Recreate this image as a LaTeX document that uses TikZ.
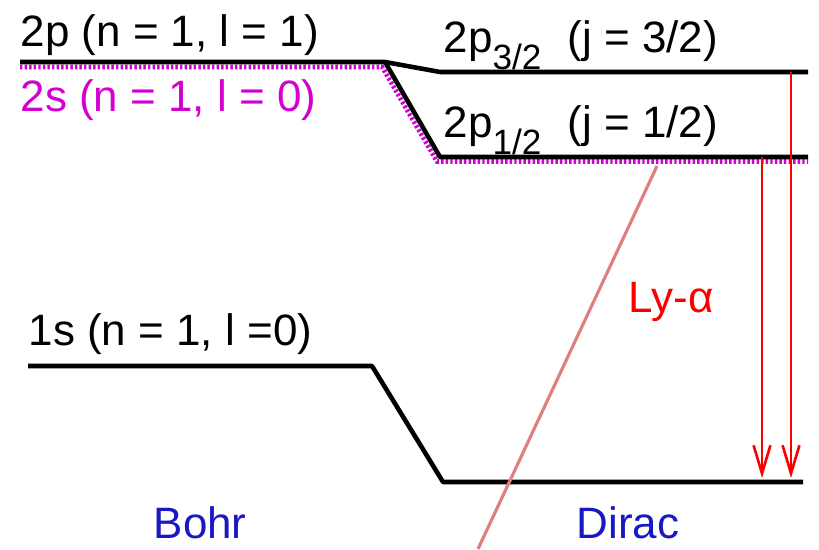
\documentclass[tikz,border=0pt]{standalone}
\usepackage{fontspec}
\setmainfont{Liberation Sans}
\usetikzlibrary{arrows.meta}
\definecolor{lvlmag}{RGB}{210,0,210}
\definecolor{lyred}{RGB}{250,0,0}
\definecolor{cutpink}{RGB}{222,128,128}
\definecolor{labblue}{RGB}{25,25,195}
\newcommand{\jsub}[1]{\raisebox{-0.7ex}{\fontsize{10}{10}\selectfont #1}}

\begin{document}
\begin{tikzpicture}[x=0.01cm,y=-0.01cm,
  level/.style={line width=1.3pt,black,line join=round},
  sdots/.style={lvlmag,line width=1.3pt,dash pattern=on 0.7pt off 0.6pt},
  trans/.style={lyred,line width=0.75pt,-{Straight Barb[length=8pt,width=4.8pt]}},
  lab/.style={anchor=base west,inner sep=0pt,font=\fontsize{12.5}{14}\selectfont}]
  \useasboundingbox (0,0) rectangle (819,549);
  % level end points
  \coordinate (bp) at (20,62);
  \coordinate (bpk) at (385,62);
  \coordinate (p32a) at (440,72);
  \coordinate (p32b) at (808,72);
  \coordinate (p12a) at (440,157);
  \coordinate (p12b) at (808,157);
  \coordinate (bs) at (28,366);
  \coordinate (bsk) at (372,366);
  \coordinate (s1a) at (443,482);
  \coordinate (s1b) at (803,482);
  % 2s level, dotted under the 2p one
  \draw[sdots] (20,67) -- (382,67) -- (437,161.5) -- (808,161.5);
  % levels
  \draw[level] (bp) -- (bpk) -- (p32a) -- (p32b);
  \draw[level] (bpk) -- (p12a) -- (p12b);
  \draw[level] (bs) -- (bsk) -- (s1a) -- (s1b);
  % labels
  \node[lab] (l2p) at (20,47) {2p (n = 1, l = 1)};
  \node[lab,lvlmag] (l2s) at (20,112) {2s (n = 1, l = 0)};
  \node[lab] (l32) at (443,53) {2p\jsub{3/2}\hspace{0.6em}(j = 3/2)};
  \node[lab] (l12) at (443,138) {2p\jsub{1/2}\hspace{0.6em}(j = 1/2)};
  \node[lab] (l1s) at (28,345) {1s (n = 1, l =0)};
  \node[lab,lyred] (lya) at (628,312) {Ly-α};
  \node[lab,labblue] (bohr) at (153,538) {Bohr};
  \node[lab,labblue] (dirac) at (576,538) {Dirac};
  % transitions
  \coordinate (t1) at (762,157);
  \coordinate (t1e) at (762,478);
  \coordinate (t2) at (791,72);
  \coordinate (t2e) at (791,478);
  \draw[trans] (t1) -- (t1e);
  \draw[trans] (t2) -- (t2e);
  % cut line
  \coordinate (ctop) at (657,166);
  \coordinate (cbot) at (478,549);
  \draw[cutpink,line width=0.9pt] (ctop) -- (cbot);
\end{tikzpicture}
\end{document}
